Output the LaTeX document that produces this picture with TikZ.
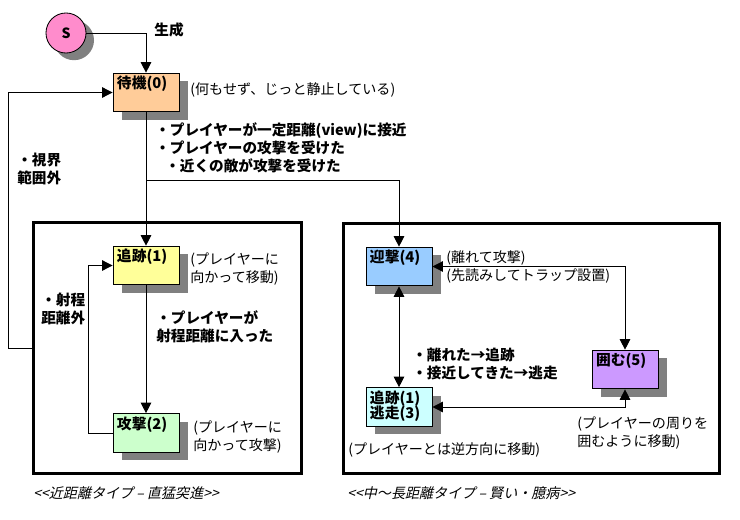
\documentclass[tikz,border=0pt]{standalone}
\usepackage{fontspec}
\setmainfont{Noto Sans CJK JP}
\newfontfamily\capfont{Noto Sans CJK JP}[FakeSlant=0.22]
\usetikzlibrary{arrows.meta, shadows}
\definecolor{spink}{RGB}{255,140,204}
\definecolor{cwait}{RGB}{255,204,153}
\definecolor{cchase}{RGB}{255,255,153}
\definecolor{catk}{RGB}{204,255,204}
\definecolor{cintc}{RGB}{153,204,255}
\definecolor{cflee}{RGB}{204,255,255}
\definecolor{csurr}{RGB}{204,153,255}
\definecolor{shd}{RGB}{128,128,128}
\newcommand{\sttxt}[1]{\parbox[c][0.97cm][t]{1.45cm}{\vspace*{2pt}\bfseries #1}}

\begin{document}
\begin{tikzpicture}[
    x=0.025cm, y=-0.025cm,
    st/.style={draw, line width=0.6pt, inner xsep=0.1cm, inner ysep=0pt,
               minimum width=1.65cm, minimum height=0.97cm,
               font=\fontsize{10.5}{12.8}\selectfont,
               drop shadow={shadow xshift=0.22cm, shadow yshift=-0.2cm,
                            fill=shd, opacity=1}},
    frm/.style={draw, line width=2.4pt, inner sep=0pt},
    ln/.style={line width=0.7pt},
    arr/.style={ln, -{Triangle[length=7.5pt,width=7.5pt]}},
    arr2/.style={ln, {Triangle[length=7.5pt,width=7.5pt]}-{Triangle[length=7.5pt,width=7.5pt]}},
    lb/.style={font=\fontsize{10.4}{12.8}\selectfont\bfseries, align=left, inner sep=0pt},
    note/.style={font=\fontsize{10}{12.8}\selectfont, align=left, inner sep=0pt},
    capt/.style={font=\fontsize{10}{12.8}\selectfont\capfont, inner sep=0pt}
  ]
    \useasboundingbox (0,0) rectangle (740,519);

    %% Start / idle ───────────────────────────
    \node[circle, draw, line width=0.6pt, fill=spink, minimum size=1cm,
          font=\fontsize{10}{12}\selectfont\bfseries,
          drop shadow={shadow xshift=0.2cm, shadow yshift=-0.18cm,
                       fill=shd, opacity=1}] (S) at (66,33) {S};
    \node[st, fill=cwait] (Wait) at (146,92.5) {\sttxt{待機(0)}};
    \node[note, anchor=west] (nWait) at (190,90) {(何もせず、じっと静止している)};

    %% Near type ──────────────────────────────
    \node[frm, minimum width=6.7cm, minimum height=6.275cm] (Near) at (167.5,348) {};
    \node[st, fill=cchase] (Chase) at (146,265.5) {\sttxt{追跡(1)}};
    \node[st, fill=catk]   (Atk)   at (146,433)   {\sttxt{攻撃(2)}};
    \node[note, anchor=west] (nChase) at (190,269) {(プレイヤーに\\向かって移動)};
    \node[note, anchor=west] (nAtk)   at (193,437) {(プレイヤーに\\向かって攻撃)};
    \node[capt, anchor=west] (cNear)  at (33,493) {<<近距離タイプ – 直猛突進>>};

    %% Far type ───────────────────────────────
    \node[frm, minimum width=9.4cm, minimum height=6.25cm] (Far) at (531.5,348.5) {};
    \node[st, fill=cintc] (Intc) at (399,266.5) {\sttxt{迎撃(4)}};
    \node[st, fill=cflee] (Flee) at (399,407)
          {\sttxt{追跡(1)\\[-2pt]逃走(3)}};
    \node[st, fill=csurr] (Surr) at (625,369.5) {\sttxt{囲む(5)}};
    \node[note, anchor=west] (nIntc) at (446,266.5)
          {(離れて攻撃)\\(先読みしてトラップ設置)};
    \node[note, anchor=west] (nSurr) at (577,433.5)
          {(プレイヤーの周りを\\囲むように移動)};
    \node[note, anchor=west] (nFlee) at (348,450) {(プレイヤーとは逆方向に移動)};
    \node[capt, anchor=west] (cFar) at (347,493) {<<中～長距離タイプ – 賢い・臆病>>};

    %% Transitions ────────────────────────────
    \draw[arr] (S) -| node[pos=0.5, right, lb, xshift=0.2cm, yshift=0.08cm]{生成} (Wait);
    \draw[arr] (Wait) -- (Chase);
    \coordinate (br) at (146,180);
    \draw[arr] (br) -| (Intc);
    \node[lb, anchor=west] (lWake) at (155,148)
          {・プレイヤーが一定距離(view)に接近\\・プレイヤーの攻撃を受けた\\
           \hspace*{0.25cm}・近くの敵が攻撃を受けた};

    \coordinate (lp) at (8,348);
    \draw[arr] (Near.west) -- (lp) |- (Wait);
    \node[lb, anchor=west] (lView) at (17,169) {・視界\\範囲外};

    \draw[arr] (Chase) -- (Atk);
    \node[lb, anchor=west] (lIn) at (156,327) {・プレイヤーが\\射程距離に入った};
    \draw[arr] (Atk.west) -- ++(-24,0) |- (Chase);
    \node[lb, anchor=west] (lOut) at (41,309) {・射程\\距離外};

    \draw[arr2] (Intc) -- (Flee);
    \draw[arr2] (Intc) -| (Surr);
    \draw[arr2] (Flee) -| (Surr);
    \node[lb, anchor=west] (lFlee) at (412,364) {・離れた→追跡\\・接近してきた→逃走};

  \end{tikzpicture}
\end{document}
